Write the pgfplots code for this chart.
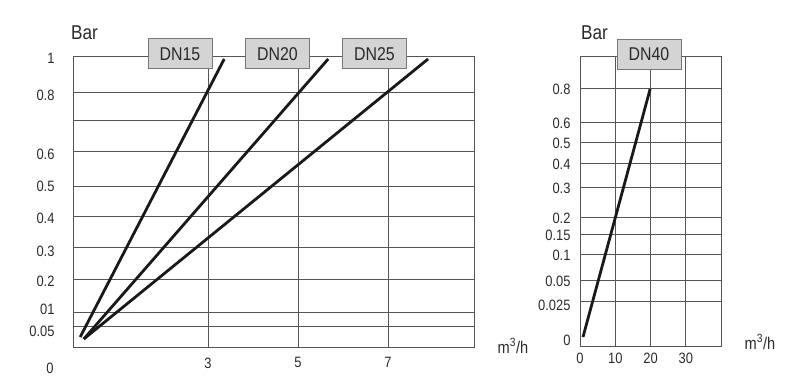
\documentclass[border=0pt]{standalone}
\usepackage{fontspec}
\setmainfont{Liberation Sans}[FakeStretch=0.86]
\usepackage{pgfplots}
\pgfplotsset{compat=1.18}
\definecolor{gridc}{HTML}{555555}
\definecolor{txt}{HTML}{2A2A2A}
\definecolor{boxf}{HTML}{D4D4D4}
\definecolor{boxd}{HTML}{777777}
\pgfplotsset{mygrid/.style={
  scale only axis, anchor=south west,
  axis line style={gridc, line width=1pt},
  ymajorgrids, xmajorgrids,
  major grid style={gridc, line width=1pt},
  major tick length=0,
  every tick label/.append style={font=\fontsize{15}{17}\selectfont, text=txt},
  /pgf/number format/assume math mode=true,
  clip=false,
  extra tick style={grid=none, major tick length=0},
}}
\begin{document}
\begin{tikzpicture}[x=1pt,y=1pt]
\useasboundingbox (0,0) rectangle (800,387);
% left panel
\begin{axis}[mygrid, at={(73pt,39pt)}, width=401pt, height=291pt,
  xmin=0, xmax=8.91, ymin=0, ymax=291,
  xtick={3,5,7}, xticklabels={3,5,7},
  xticklabel style={yshift=-6pt},
  ytick={21,35,68,100,131,161,196,227,255,291},
  yticklabels={},
  extra y ticks={17,39,67,97,130,162,194,253,290},
  extra y tick labels={0.05,01,0.2,0.3,0.4,0.5,0.6,0.8,1},
  extra y tick style={yticklabel style={xshift=-15pt}},
]
\addplot[black!90, line width=2.8pt] coordinates {(0.16,11) (3.36,289)};
\addplot[black!90, line width=2.8pt] coordinates {(0.24,9) (5.67,289)};
\addplot[black!90, line width=2.8pt] coordinates {(0.24,9) (7.89,289)};
\end{axis}
% right panel
\begin{axis}[mygrid, at={(580pt,40pt)}, width=141pt, height=290pt,
  xmin=0, xmax=40, ymin=0, ymax=290,
  xtick={0,10,20,30}, xticklabels={0,10,20,30},
  xticklabel style={yshift=-2pt},
  ytick={45,66,92,112,129,159,183,204,224,258,290},
  yticklabels={},
  extra y ticks={7,42,66,92,112,129,159,183,204,224,258,292},
  extra y tick labels={0,0.025,0.05,0.1,0.15,0.2,0.3,0.4,0.5,0.6,0.8,1},
  extra y tick style={yticklabel style={xshift=-6pt}},
]
\addplot[black!90, line width=2.8pt] coordinates {(0.85,10) (19.9,258)};
\end{axis}
% boxes
\tikzset{dnbox/.style={draw=boxd, fill=boxf, line width=1pt, minimum width=64pt, minimum height=30pt, inner sep=0pt, text=txt, font=\fontsize{18.5}{20}\selectfont}}
\node[dnbox] at (180,333) {DN15};
\node[dnbox] at (277.5,333) {DN20};
\node[dnbox] at (374.5,333) {DN25};
\node[dnbox] at (649,332.5) {DN40};
% texts
\node[anchor=west, inner sep=0pt, text=txt, font=\fontsize{20}{22}\selectfont] at (71,354) {Bar};
\node[anchor=west, inner sep=0pt, text=txt, font=\fontsize{20}{22}\selectfont] at (581,354) {Bar};
\node[text=txt, font=\fontsize{15}{17}\selectfont] at (50,19) {0};
\node[text=txt, font=\fontsize{17}{19}\selectfont] at (513,41) {m\textsuperscript{3}/h};
\node[text=txt, font=\fontsize{17}{19}\selectfont] at (760,45) {m\textsuperscript{3}/h};
\end{tikzpicture}
\end{document}
